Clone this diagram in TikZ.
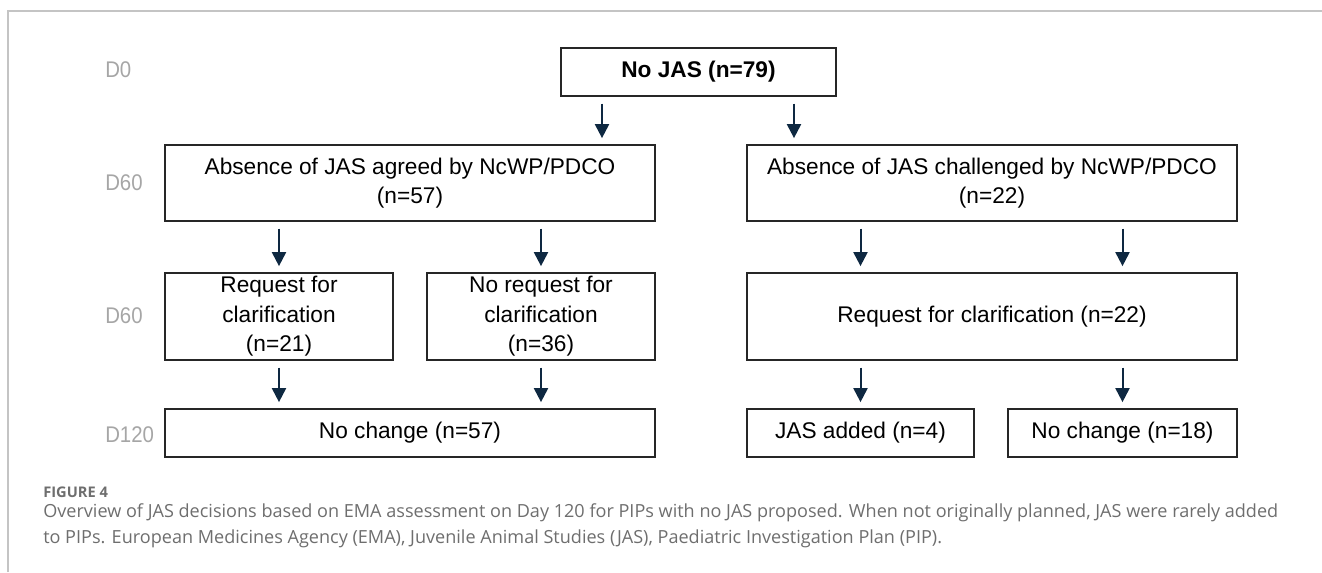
\documentclass[tikz,border=0pt]{standalone}
\usepackage{fontspec}
\setmainfont{Liberation Sans}
\newfontfamily\dayfont{Liberation Sans}[FakeStretch=0.9]
\newfontfamily\capfont{Open Sans}
\usetikzlibrary{arrows.meta}

\definecolor{navy}{HTML}{0E2841}
\definecolor{daygray}{HTML}{A6A6A6}
\definecolor{framegray}{HTML}{C4C4C4}
\definecolor{capgray}{HTML}{6E6E6E}

\tikzset{
  stage/.style={draw=black!85,line width=1.3pt,align=center,inner sep=0pt,
    font=\fontsize{17}{22.2}\selectfont},
  daylabel/.style={anchor=west,inner sep=0pt,text=daygray,font=\dayfont\fontsize{17}{20}\selectfont}
}

\begin{document}
\begin{tikzpicture}[x=0.75pt,y=-0.75pt]
		\useasboundingbox (0,0) rectangle (1322,572);
		\draw[framegray,line width=1.4pt] (8,572) -- (8,11) -- (1322,11);
		% day labels
		\begin{scope}[every node/.style={daylabel}]
			\node (d0) at (105,70) {D0};
			\node (d60a) at (105,183) {D60};
			\node (d60b) at (105,316) {D60};
			\node (d120) at (105,435) {D120};
		\end{scope}
		% boxes
		\begin{scope}[every node/.style={stage}]
			\node[minimum width=206.25pt,minimum height=36pt] (top) at (698.5,72) {\textbf{No JAS (n=79)}};
			\node[minimum width=367.5pt,minimum height=57pt] (agreed) at (410,183) {Absence of JAS agreed by NcWP/PDCO\\(n=57)};
			\node[minimum width=367.5pt,minimum height=57pt] (challenged) at (992,183) {Absence of JAS challenged by NcWP/PDCO\\(n=22)};
			\node[minimum width=171pt,minimum height=65.25pt] (req21) at (279,316.5) {Request for\\clarification\\(n=21)};
			\node[minimum width=171pt,minimum height=65.25pt] (noreq36) at (541,316.5) {No request for\\clarification\\(n=36)};
			\node[minimum width=367.5pt,minimum height=65.25pt] (req22) at (992,316.5) {Request for clarification (n=22)};
			\node[minimum width=367.5pt,minimum height=36pt] (nochange57) at (410,433) {No change (n=57)};
			\node[minimum width=170.25pt,minimum height=36pt] (added4) at (860.5,433) {JAS added (n=4)};
			\node[minimum width=171.75pt,minimum height=36pt] (nochange18) at (1122.5,433) {No change (n=18)};
		\end{scope}
		\coordinate (colA) at (602,0);
		\coordinate (colB) at (794,0);
		% arrows
		\begin{scope}[>={Triangle[length=10.5pt,width=10.5pt]},
			every edge/.style={draw=navy,line width=1.5pt,shorten <=5pt,shorten >=4.5pt}]
			\path [->] (top.south -| colA) edge (agreed.north -| colA);
			\path [->] (top.south -| colB) edge (challenged.north -| colB);
			\path [->] (agreed.south -| req21) edge (req21.north);
			\path [->] (agreed.south -| noreq36) edge (noreq36.north);
			\path [->] (challenged.south -| added4) edge (req22.north -| added4);
			\path [->] (challenged.south -| nochange18) edge (req22.north -| nochange18);
			\path [->] (req21.south) edge (nochange57.north -| req21);
			\path [->] (noreq36.south) edge (nochange57.north -| noreq36);
			\path [->] (req22.south -| added4) edge (added4.north);
			\path [->] (req22.south -| nochange18) edge (nochange18.north);
		\end{scope}
		% caption
		\node[anchor=west,inner sep=0pt,text=capgray,font=\capfont\fontsize{11}{13}\selectfont\bfseries] (figlabel) at (43,492) {FIGURE 4};
		\node[anchor=west,inner sep=0pt,align=left,text=capgray,font=\capfont\fontsize{13.55}{19.5}\selectfont] (caption) at (43,526) {Overview of JAS decisions based on EMA assessment on Day 120 for PIPs with no JAS proposed. When not originally planned, JAS were rarely added\\to PIPs. European Medicines Agency (EMA), Juvenile Animal Studies (JAS), Paediatric Investigation Plan (PIP).};
	\end{tikzpicture}
\end{document}
